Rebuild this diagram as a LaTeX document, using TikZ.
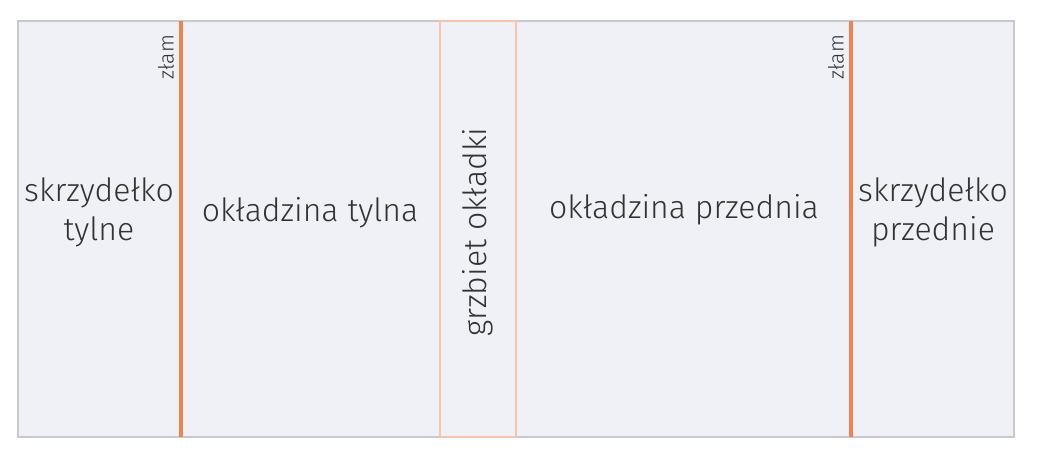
\documentclass[tikz,border=0pt]{standalone}
\usepackage{fontspec}
\setmainfont{Fira Sans Light}
\definecolor{paperFill}{HTML}{F0F1F7}
\definecolor{frameGray}{HTML}{C8C9D0}
\definecolor{foldOrange}{HTML}{F0824F}
\definecolor{spineOrange}{HTML}{F9C3AE}
\definecolor{labelGray}{HTML}{333333}
\begin{document}
\begin{tikzpicture}
[x=1pt,y=-1pt,%
  coverFrame/.style={draw=frameGray,fill=paperFill,line width=2pt},%
  spineFrame/.style={draw=spineOrange,line width=2pt},%
  foldLine/.style={line width=3.5pt,color=foldOrange},%
  panelLabel/.style={font=\fontsize{32}{39}\selectfont,text=labelGray,align=center,inner sep=0pt},%
  foldLabel/.style={font=\fontsize{21}{24}\selectfont,text=labelGray,inner sep=0pt,rotate=90}]
\useasboundingbox (0,0) rectangle (1041,461);
%% cover sheet and spine
\node (cover) at (516,229) [coverFrame,minimum width=996pt,minimum height=416pt] {};
\node (spine) at (478,229) [spineFrame,minimum width=76pt,minimum height=416pt] {};
%% fold lines
\foreach \foldname/\x in {back/181, front/851}
{
  \coordinate (\foldname top) at (\x,21);
  \coordinate (\foldname bottom) at (\x,437);
  \draw[foldLine] (\foldname top) -- (\foldname bottom);
  \node (\foldname label) at (\x-15,57) [foldLabel] {złam};
}
%% panel labels
\foreach \panelname/\x/\y/\text in {backflap/99/212/{skrzydełko\\tylne},
  backcover/310/213/{okładzina tylna}, frontcover/684/210/{okładzina przednia},
  frontflap/933/212/{skrzydełko\\przednie}}
{
  \node (\panelname) at (\x,\y) [panelLabel] {\text};
}
\node (spinelabel) at (478,232) [panelLabel,rotate=90] {grzbiet okładki};
\end{tikzpicture}
\end{document}
